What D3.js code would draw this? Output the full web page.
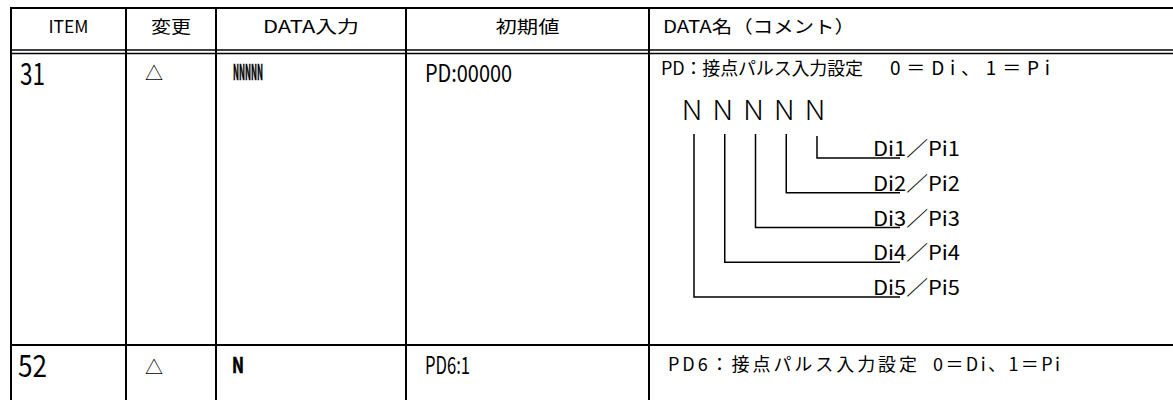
<!DOCTYPE html>
<html><head><meta charset="utf-8">
<script src="https://cdn.jsdelivr.net/npm/d3@7"></script>
<style>html,body{margin:0;padding:0;background:#fff}svg{display:block}</style>
</head><body>
<svg id="c" width="1173" height="400"></svg>
<script>
// ---- data ----
const columns = ["ITEM", "変更", "DATA入力", "初期値", "DATA名（コメント）"];
const items = ["31", "52"];
const changes = ["△", "△"];
const dataInputs = ["NNNNN", "N"];
const initialValues = ["PD:00000", "PD6:1"];
const comments = ["PD：接点パルス入力設定　0＝Di、1＝Pi", "PD6：接点パルス入力設定　0＝Di、1＝Pi"];
const digitPattern = ["N", "N", "N", "N", "N"];
const bitLabels = ["Di1／Pi1", "Di2／Pi2", "Di3／Pi3", "Di4／Pi4", "Di5／Pi5"];

// ---- layout ----
const FONT = "'Noto Sans CJK JP', 'Noto Sans', sans-serif";
const svg = d3.select("#c");
const W = 1173, H = 400;

const colEdges = [11, 126, 216, 406, 649, 1180];
const colX = d3.scaleOrdinal().domain(columns).range(colEdges.slice(0, 5));
const colW = d3.scaleOrdinal().domain(columns).range(colEdges.slice(1).map((e, i) => e - colEdges[i]));

const rowIdx = d3.range(items.length);
const rowTop = d3.scaleOrdinal().domain(rowIdx).range([53.5, 345]);

const g = svg.append("g");

// grid lines
const line = (x1, y1, x2, y2, w) => g.append("line")
  .attr("x1", x1).attr("y1", y1).attr("x2", x2).attr("y2", y2)
  .attr("stroke", "#000").attr("stroke-width", w);

line(colEdges[0] - 1, 8, W + 2, 8, 2);          // top border
line(colEdges[0] - 1, 50, W + 2, 50, 1.6);      // header double line
line(colEdges[0] - 1, 53.5, W + 2, 53.5, 1.6);
rowIdx.slice(1).forEach(i => line(colEdges[0] - 1, rowTop(i), W + 2, rowTop(i), 2));
colEdges.slice(0, 5).forEach(xv => line(xv, 7, xv, H + 2, 2));

// header
g.selectAll("text.hdr").data(columns).join("text")
  .attr("class", "hdr")
  .attr("x", (d, i) => i === 4 ? colX(d) + 14 : colX(d) + colW(d) / 2)
  .attr("y", 32.5)
  .attr("text-anchor", (d, i) => i === 4 ? "start" : "middle")
  .attr("font-family", FONT).attr("font-size", 17.5)
  .attr("textLength", (d, i) => [40, 40, 96, 64, 192][i])
  .attr("lengthAdjust", "spacingAndGlyphs")
  .text(d => d);

// cell helper
function cell(arr, col, opts) {
  g.selectAll(null).data(arr).join("text")
    .attr("x", (d, i) => colX(col) + opts.dx[i])
    .attr("y", (d, i) => rowTop(i) + opts.dy[i])
    .attr("font-family", FONT)
    .attr("font-size", opts.size)
    .attr("font-weight", opts.weight || "normal")
    .attr("stroke", opts.stroke ? "#000" : null)
    .attr("stroke-width", opts.stroke || null)
    .attr("dominant-baseline", opts.baseline || "auto")
    .attr("textLength", (d, i) => opts.len[i])
    .attr("lengthAdjust", "spacingAndGlyphs")
    .text(d => d);
}

cell(items, columns[0], {dx: [9, 7], dy: [31.5, 32], size: 30, len: [25, 29]});
cell(changes, columns[1], {dx: [19, 19], dy: [18.5, 20.5], size: 18, len: [18, 18], baseline: "central"});
cell(dataInputs, columns[2], {dx: [17, 16], dy: [26, 28], size: 21, weight: "bold", stroke: 0.6, len: [30, 12]});
cell(initialValues, columns[3], {dx: [19, 19], dy: [28.5, 29], size: 24, len: [87, 45]});

// comments: two segments split at the full-width space
const segX = [[661, 890], [668, 933]];
const segLen = [[202, 160], [249, 127]];
const segSize = [[18, 19], [18, 18]];
const segY = [66.5, 363];
comments.forEach((c, r) => {
  const parts = c.split("　");
  g.selectAll(null).data(parts).join("text")
    .attr("x", (d, k) => segX[r][k])
    .attr("y", segY[r])
    .attr("dominant-baseline", "central")
    .attr("font-family", FONT).attr("font-size", (d, k) => segSize[r][k])
    .attr("textLength", (d, k) => segLen[r][k])
    .attr("lengthAdjust", "spacing")
    .text(d => d);
});

// bit diagram inside first comment cell
const bx = d3.scaleLinear().domain([0, 4]).range([817, 694]);
const by = d3.scaleLinear().domain([0, 4]).range([158, 297]);
const lineTop = 134;
const labelX = 873, lineEnd = 900;

g.selectAll("text.bign").data(digitPattern).join("text")
  .attr("class", "bign")
  .attr("x", (d, j) => bx(4 - j) - 2)
  .attr("y", 120)
  .attr("text-anchor", "middle")
  .attr("font-family", FONT).attr("font-size", 27).attr("font-weight", 300)
  .attr("textLength", 21).attr("lengthAdjust", "spacingAndGlyphs")
  .text(d => d);

g.selectAll("path.bit").data(bitLabels).join("path")
  .attr("class", "bit")
  .attr("d", (d, i) => `M${bx(i)},${lineTop + (i === 0 ? 2 : 0)}V${by(i)}H${lineEnd}`)
  .attr("fill", "none").attr("stroke", "#000").attr("stroke-width", 1.5);

g.selectAll("text.bitlbl").data(bitLabels).join("text")
  .attr("class", "bitlbl")
  .attr("x", labelX)
  .attr("y", (d, i) => by(i) - 2)
  .attr("font-family", FONT).attr("font-size", 20)
  .attr("textLength", 87).attr("lengthAdjust", "spacingAndGlyphs")
  .text(d => d);
</script>
</body></html>
